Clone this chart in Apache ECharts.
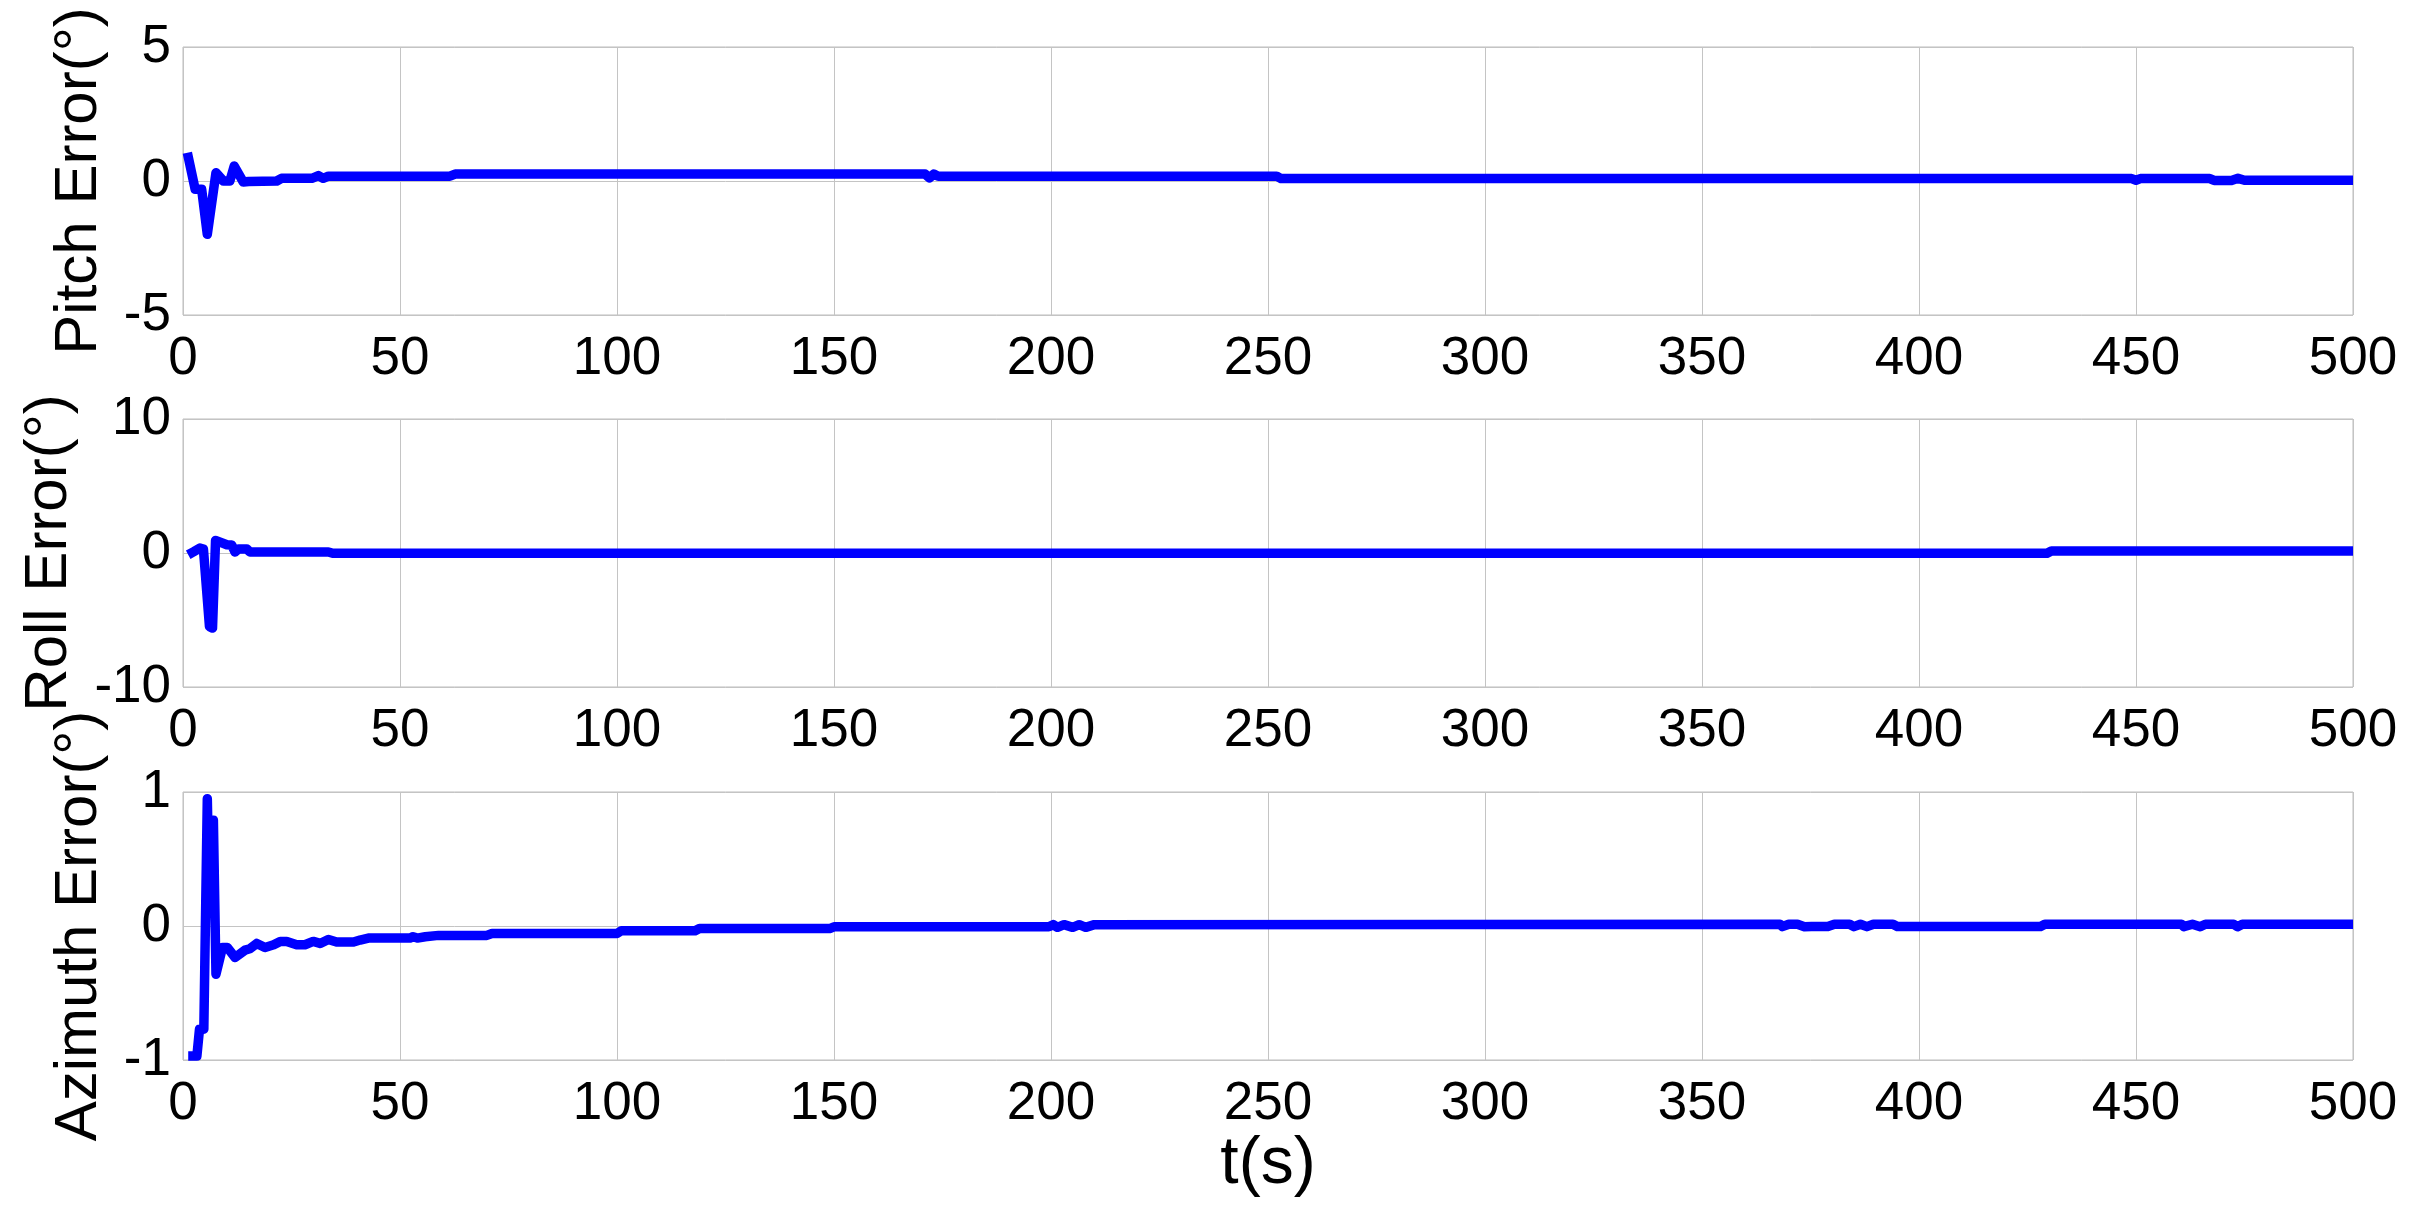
<!DOCTYPE html>
<html>
<head>
<meta charset="utf-8">
<script src="https://cdn.jsdelivr.net/npm/echarts@6/dist/echarts.min.js"></script>
<style>
  html, body { margin: 0; padding: 0; background: #ffffff; }
  #error-chart { width: 2423px; height: 1219px; }
</style>
</head>
<body>
<div id="error-chart"></div>
<script>
// time axis ticks (s)
const timeTicks = [0, 50, 100, 150, 200, 250, 300, 350, 400, 450, 500]

// pitch error (deg)
const pitchT = [1.0, 2.8, 4.3, 5.6, 7.6, 9.3, 10.8, 11.8, 13.9, 15.1, 21.6, 22.7, 29.7, 31.2, 32.3, 33.5,
  61.5, 62.7, 171, 172, 173, 174, 252, 253, 449, 450, 451, 467, 468, 472, 473.5, 475, 500]
const pitchV = [1.05, -0.31, -0.31, -1.99, 0.31, 0.0, 0.0, 0.56, -0.04, -0.02, 0.0, 0.1, 0.1, 0.2, 0.1, 0.18,
  0.18, 0.26, 0.26, 0.12, 0.26, 0.18, 0.18, 0.09, 0.09, 0.03, 0.09, 0.09, 0.02, 0.02, 0.1, 0.03, 0.03]

// roll error (deg)
const rollT = [1.2, 2.5, 3.9, 4.7, 6.1, 6.8, 7.5, 10.1, 11.2, 12.0, 12.8, 14.7, 15.4, 33.5, 34.5, 429.5, 430.5, 500]
const rollV = [-0.13, 0.1, 0.37, 0.3, -5.5, -5.6, 0.94, 0.62, 0.6, 0.07, 0.3, 0.3, 0.08, 0.08, -0.02, -0.02, 0.15, 0.15]

// azimuth error (deg)
const azimuthT = [1.2, 3.2, 3.8, 4.8, 5.6, 6.1, 7.0, 7.6, 9.1, 10.2, 12.0, 14.3, 15.4, 17.0, 18.9, 20.9, 22.4, 23.9,
  26.2, 28.1, 30.0, 31.6, 33.5, 35.4, 39.3, 40.8, 42.7, 52.3, 53.0, 54.0, 55.8, 58.9, 70.0, 71.2, 100, 101,
  118, 119, 149, 150, 199.5, 200.5, 201.5, 203, 205, 206.5, 208, 210, 368, 368.5, 370, 372, 373.6, 375.2,
  379, 380.5, 384, 385, 386.5, 388, 389.5, 394, 395, 428, 429, 460.5, 461, 463, 464.8, 466, 472.5, 473.4,
  474.5, 500]
const azimuthV = [-0.97, -0.97, -0.77, -0.77, 0.95, 0.11, 0.79, -0.36, -0.16, -0.16, -0.235, -0.18, -0.17, -0.13,
  -0.16, -0.14, -0.115, -0.115, -0.14, -0.14, -0.115, -0.13, -0.1, -0.12, -0.12, -0.105, -0.09, -0.09, -0.08,
  -0.09, -0.08, -0.07, -0.07, -0.056, -0.056, -0.036, -0.036, -0.019, -0.019, -0.006, -0.006, 0.01, -0.01,
  0.01, -0.01, 0.01, -0.01, 0.01, 0.013, -0.005, 0.013, 0.013, -0.005, -0.004, -0.004, 0.013, 0.013, -0.005,
  0.013, -0.005, 0.013, 0.013, -0.004, -0.004, 0.013, 0.013, -0.005, 0.013, -0.005, 0.013, 0.013, -0.005,
  0.013, 0.013]

const zip = (ts, vs) => ts.map((t, i) => [t, vs[i]])

const font = 'Liberation Sans, Arial, sans-serif'
const gridColor = '#c4c4c4'

const panels = [
  {name: 'Pitch Error(°)', min: -5, max: 5, interval: 5, nameGap: 74, top: 47, data: zip(pitchT, pitchV)},
  {name: 'Roll Error(°)', min: -10, max: 10, interval: 10, nameGap: 104, top: 419, data: zip(rollT, rollV)},
  {name: 'Azimuth Error(°)', min: -1, max: 1, interval: 1, nameGap: 74, top: 792, data: zip(azimuthT, azimuthV)}
]

const chart = echarts.init(document.getElementById('error-chart'))

const option = {
  animation: false,
  backgroundColor: '#ffffff',
  grid: panels.map(p => ({
    left: 183,
    width: 2170,
    top: p.top,
    height: 268,
    show: true,
    borderColor: '#bdbdbd',
    borderWidth: 1,
    containLabel: false,
    outerBoundsMode: 'none'
  })),
  xAxis: panels.map((p, i) => ({
    type: 'value',
    gridIndex: i,
    min: timeTicks[0],
    max: timeTicks[timeTicks.length - 1],
    interval: timeTicks[1] - timeTicks[0],
    name: i === panels.length - 1 ? 't(s)' : '',
    nameLocation: 'middle',
    nameGap: 66,
    nameTextStyle: {
      fontFamily: font,
      fontSize: 66,
      color: '#000000'
    },
    axisLine: {show: false},
    axisTick: {show: false},
    splitLine: {
      show: true,
      lineStyle: {color: gridColor, width: 1}
    },
    axisLabel: {
      margin: 18,
      fontFamily: font,
      fontSize: 53,
      color: '#000000'
    }
  })),
  yAxis: panels.map((p, i) => ({
    type: 'value',
    gridIndex: i,
    min: p.min,
    max: p.max,
    interval: p.interval,
    name: p.name,
    nameLocation: 'middle',
    nameRotate: 90,
    nameGap: p.nameGap,
    nameTextStyle: {
      fontFamily: font,
      fontSize: 60,
      color: '#000000'
    },
    axisLine: {show: false},
    axisTick: {show: false},
    splitLine: {
      show: true,
      lineStyle: {color: gridColor, width: 1}
    },
    axisLabel: {
      margin: 12,
      fontFamily: font,
      fontSize: 53,
      color: '#000000'
    }
  })),
  series: panels.map((p, i) => ({
    type: 'line',
    xAxisIndex: i,
    yAxisIndex: i,
    data: p.data,
    showSymbol: false,
    lineStyle: {
      color: '#0000ff',
      width: 9.5,
      join: 'round'
    },
    itemStyle: {
      color: '#0000ff'
    }
  }))
}

chart.setOption(option)
</script>
</body>
</html>
